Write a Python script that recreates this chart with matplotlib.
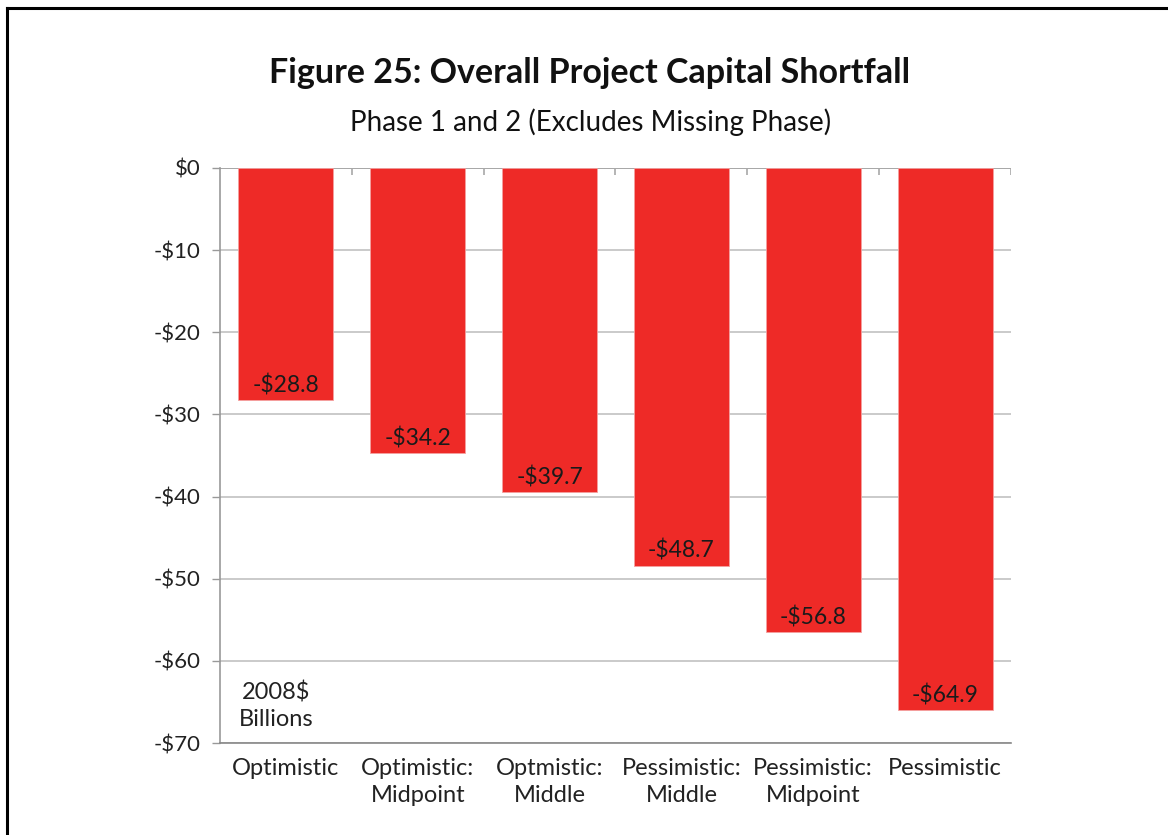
import matplotlib
matplotlib.use("Agg")
import matplotlib.pyplot as plt
from matplotlib.lines import Line2D

categories = ["Optimistic", "Optimistic:\nMidpoint", "Optmistic:\nMiddle",
              "Pessimistic:\nMiddle", "Pessimistic:\nMidpoint", "Pessimistic"]
bar_values = [-28.3, -34.7, -39.4, -48.4, -56.5, -66.0]
bar_labels = ["-$28.8", "-$34.2", "-$39.7", "-$48.7", "-$56.8", "-$64.9"]
yticks = [0, -10, -20, -30, -40, -50, -60, -70]
ytick_labels = ["$0", "-$10", "-$20", "-$30", "-$40", "-$50", "-$60", "-$70"]

title = "Figure 25: Overall Project Capital Shortfall"
subtitle = "Phase 1 and 2 (Excludes Missing Phase)"
unit_note = "2008$\nBillions"

FONT = "Lato"
plt.rcParams["font.family"] = [FONT, "DejaVu Sans"]

W, H = 1168, 835
fig = plt.figure(figsize=(W / 100, H / 100), dpi=100)
ax = fig.add_axes([220 / W, 1 - 743 / H, (1011 - 220) / W, (743 - 168) / H])

x = list(range(len(categories)))
red = "#EE2A27"
ax.bar(x, bar_values, width=0.72, color=red, edgecolor="#F4A0A0",
       linewidth=0.6, zorder=3)

for xi, v, lab in zip(x, bar_values, bar_labels):
    ax.annotate(lab, (xi, v), xytext=(0, 5.5), textcoords="offset points",
                ha="center", va="baseline", fontsize=16.5, color="#1a1a1a",
                zorder=4)

ax.set_xlim(-0.5, len(categories) - 0.5)
ax.set_ylim(-70, 0)

ax.set_yticks(yticks)
ax.set_yticklabels(ytick_labels, fontsize=16, color="#222222")
ax.yaxis.grid(True, color="#C6C6C6", linewidth=1.3, zorder=0)
ax.tick_params(axis="y", length=6, width=1.0, color="#999999", pad=8)

ax.set_xticks(x)
ax.set_xticklabels(categories, fontsize=17, color="#222222", linespacing=1.35)
ax.tick_params(axis="x", length=0, pad=11)

for s in ["top", "right"]:
    ax.spines[s].set_visible(False)
ax.spines["left"].set_color("#999999")
ax.spines["left"].set_linewidth(1.2)
ax.spines["bottom"].set_color("#888888")
ax.spines["bottom"].set_linewidth(1.2)

# category axis at zero with boundary tick marks
ax.axhline(0, color="#A8A8A8", linewidth=1.4, zorder=2)
bounds = [i - 0.5 for i in range(len(categories) + 1)]
ax.vlines(bounds[1:], -0.85, 0, color="#A8A8A8", linewidth=1.2, zorder=2)

ax.text(-0.075, -65.5, unit_note, ha="center", va="center", fontsize=17,
        color="#222222", linespacing=1.3)

fig.text(590 / W, 1 - 73 / H, title, ha="center", va="center",
         fontsize=24.5, fontweight="bold", color="#111111")
fig.text(591 / W, 1 - 122 / H, subtitle, ha="center", va="center",
         fontsize=20, color="#111111")

# frame border (top and left visible)
fig.add_artist(Line2D([7 / W, 1], [1 - 8 / H, 1 - 8 / H], transform=fig.transFigure,
                      color="black", linewidth=2.2))
fig.add_artist(Line2D([7 / W, 7 / W], [0, 1 - 8 / H], transform=fig.transFigure,
                      color="black", linewidth=2.2))

fig.savefig("out.png", dpi=100)
